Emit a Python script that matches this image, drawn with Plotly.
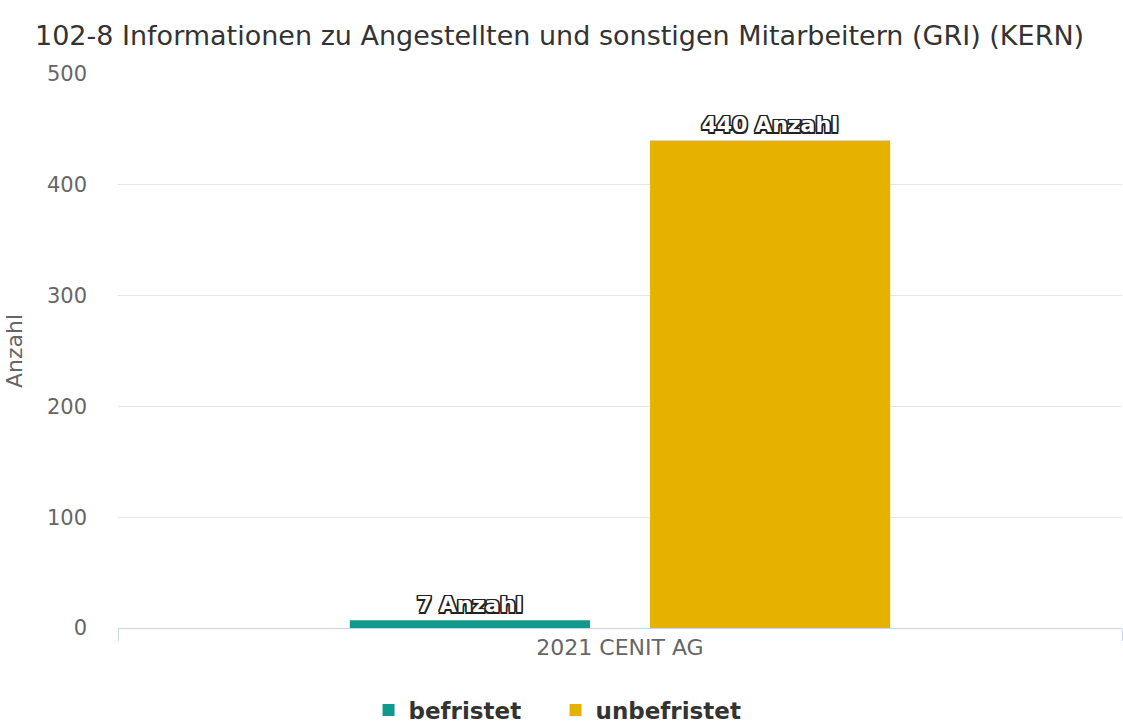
import plotly.graph_objects as go

categories = ["2021 CENIT AG"]
series_names = ["befristet", "unbefristet"]
values_befristet = [7]
values_unbefristet = [440]
colors = ["#0f9a8c", "#e5b200"]
y_ticks = [0, 100, 200, 300, 400, 500]
unit = "Anzahl"

FONT = "DejaVu Sans"
outline = ("1.5px 1.5px 0 #222, -1.5px -1.5px 0 #222, 1.5px -1.5px 0 #222, -1.5px 1.5px 0 #222, "
           "0 1.5px 0 #222, 0 -1.5px 0 #222, 1.5px 0 0 #222, -1.5px 0 0 #222")

fig = go.Figure()
for name, vals, col in zip(series_names, [values_befristet, values_unbefristet], colors):
    fig.add_trace(go.Bar(
        x=categories, y=vals, name=name,
        marker=dict(color=col, line=dict(width=0)),
        text=[f"{v} {unit}" for v in vals],
        textposition="outside",
        cliponaxis=False,
        textfont=dict(family=FONT, size=22, color="white", weight="bold", shadow=outline),
    ))

fig.update_layout(
    width=1123, height=727,
    paper_bgcolor="white", plot_bgcolor="white",
    margin=dict(l=118, r=1, t=74, b=99),
    barmode="group", bargap=0.402, bargroupgap=0.2,
    title=dict(text="102-8 Informationen zu Angestellten und sonstigen Mitarbeitern (GRI) (KERN)",
               x=35/1123, xref="container", xanchor="left",
               y=1-36/727, yref="container", yanchor="middle",
               font=dict(family=FONT, size=27, color="#333333")),
    font=dict(family=FONT, color="#666666"),
    showlegend=True,
    legend=dict(orientation="h", x=0.4947, xanchor="center", xref="container",
                y=1-710/727, yanchor="middle", yref="container",
                font=dict(family=FONT, size=23, color="#333333", weight="bold"),
                itemsizing="constant", itemwidth=30, traceorder="normal",
                entrywidth=142, entrywidthmode="pixels"),
    xaxis=dict(showgrid=False, showline=True, linecolor="#ccd6eb", linewidth=1,
               ticks="outside", tickson="boundaries", ticklen=12, tickcolor="#ccd6eb",
               tickfont=dict(family=FONT, size=22, color="#666666")),
    yaxis=dict(range=[0, 500], tickvals=y_ticks, showgrid=True, gridcolor="#e6e6e6",
               gridwidth=1, zeroline=False, showline=False,
               ticks="", ticklabelstandoff=30,
               tickfont=dict(family=FONT, size=21, color="#666666"),
               title=dict(text=unit, font=dict(family=FONT, size=22, color="#666666"), standoff=18)),
)

fig.write_html("out.html", config={"displayModeBar": False},
               post_script="document.body.style.margin='0';")
